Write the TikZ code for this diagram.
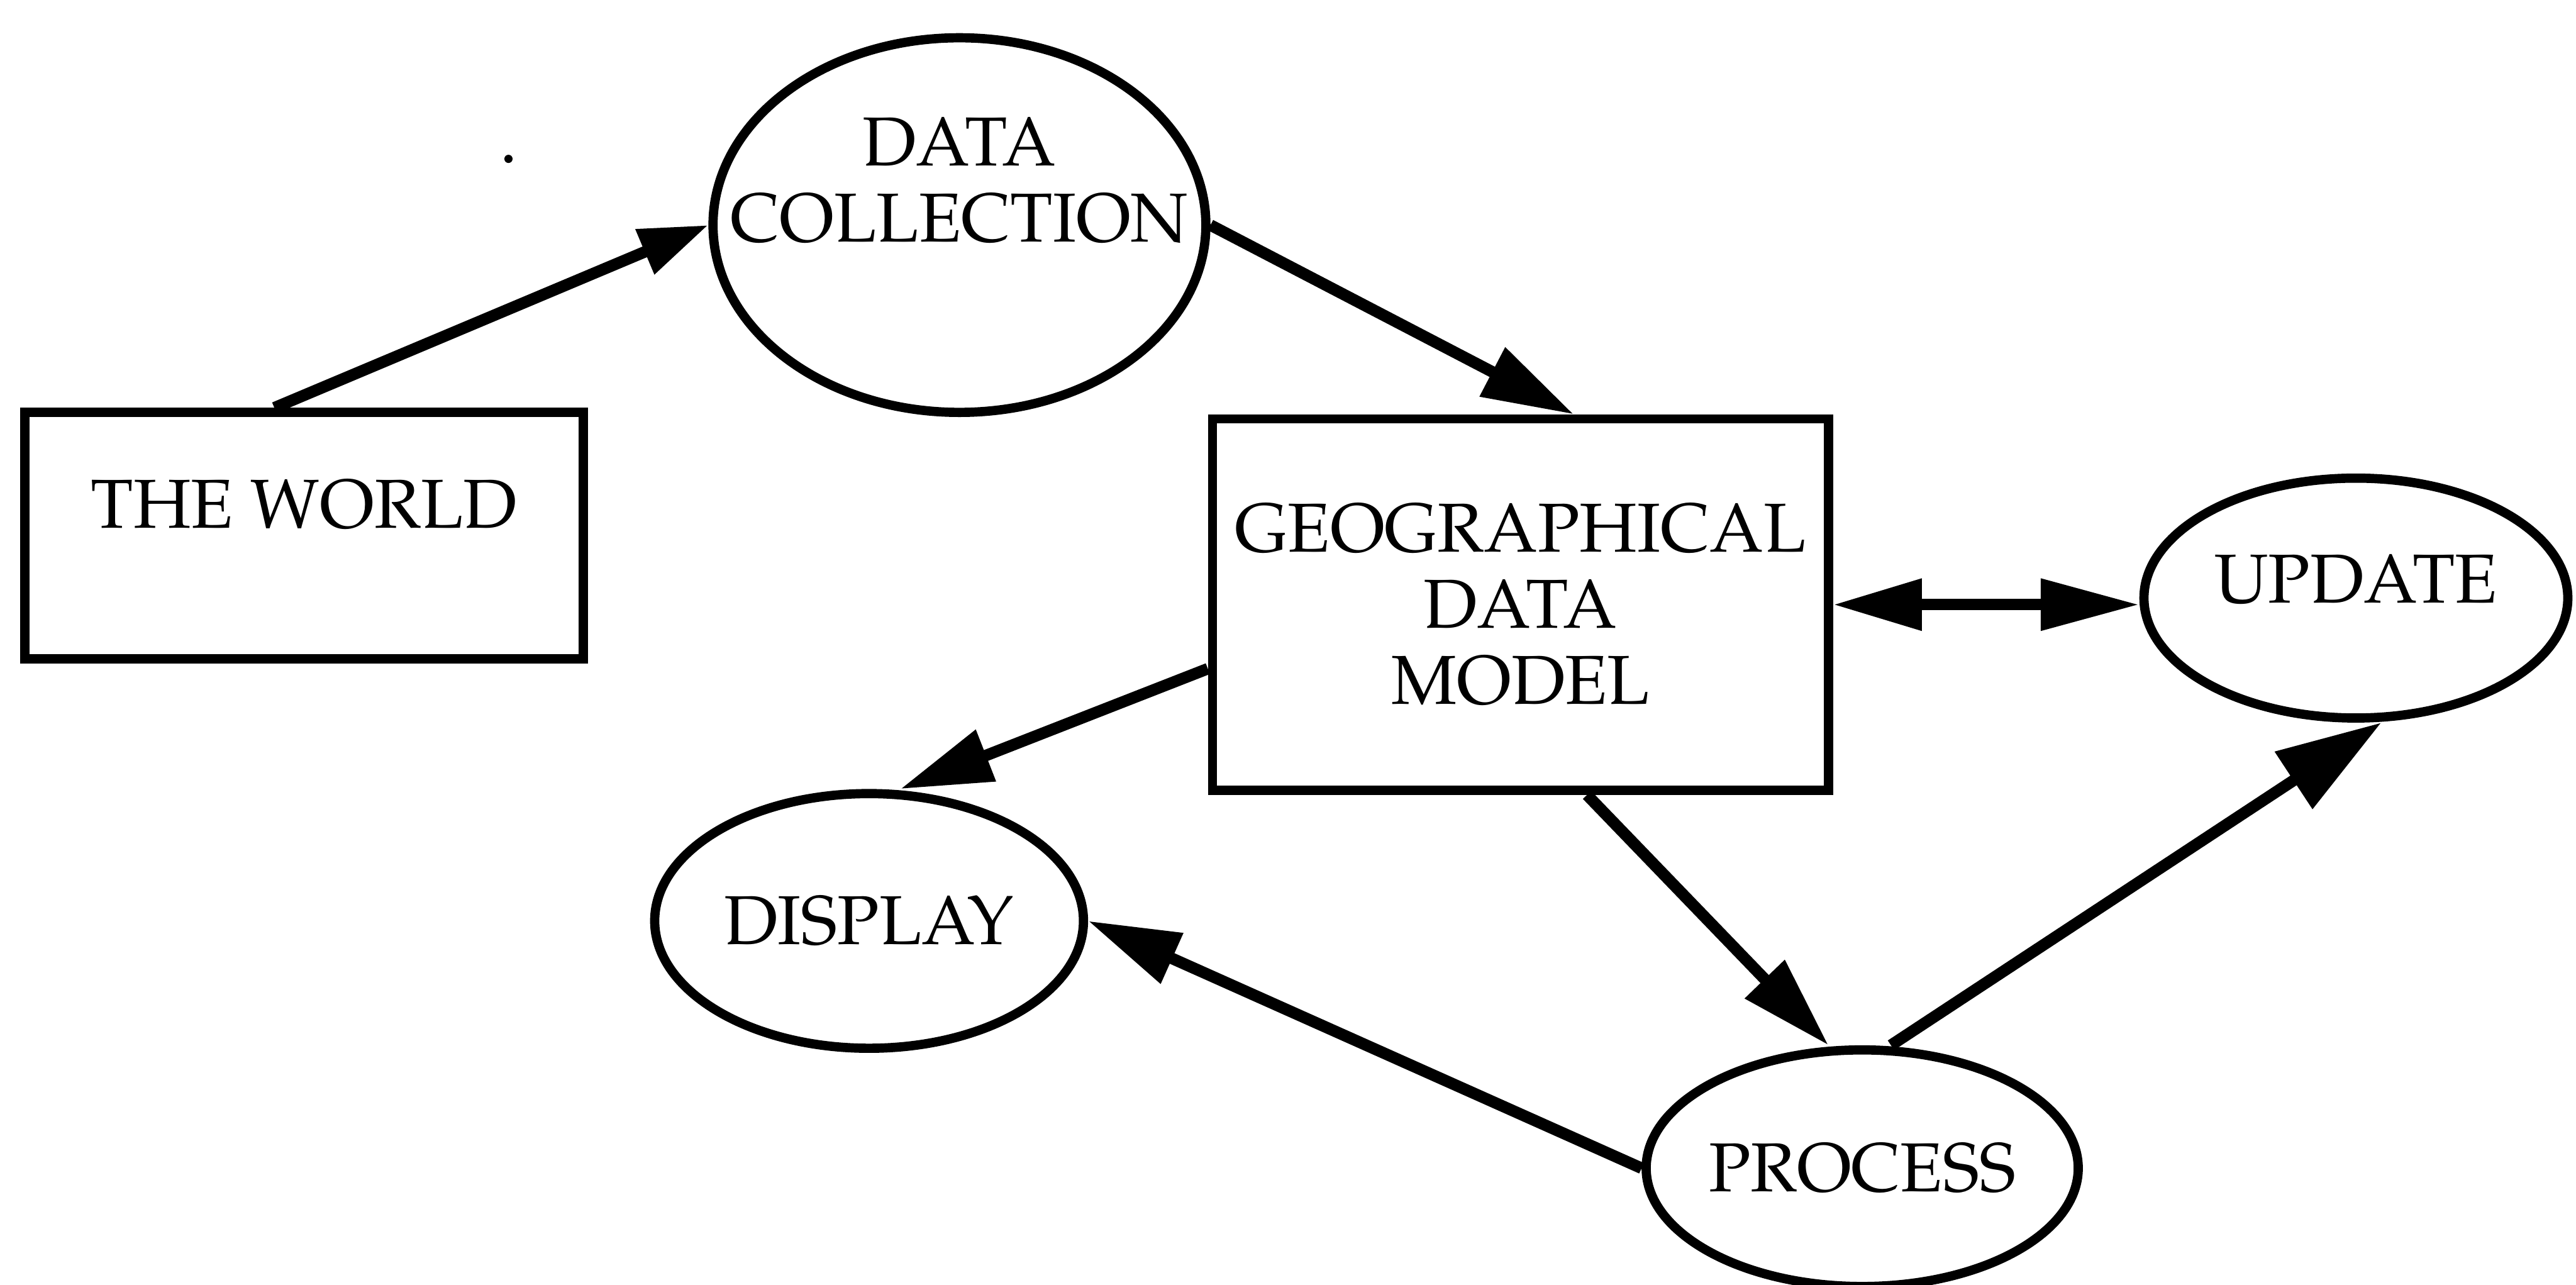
\documentclass[tikz,border=0pt]{standalone}
\usepackage[T1]{fontenc}
\usepackage{mathpazo}
\usetikzlibrary{arrows.meta,shapes.geometric}

\begin{document}
\begin{tikzpicture}[
  box/.style={draw,line width=1.6pt,inner sep=0pt,
              font={\fontsize{12}{13.2}\selectfont}},
  oval/.style={draw,ellipse,line width=1.6pt,inner sep=-0.4cm,
               font={\fontsize{12}{13.2}\selectfont}},
  arr/.style={-{Triangle[length=0.56cm,width=0.32cm]},line width=2pt},
  darr/.style={{Triangle[length=0.54cm,width=0.3cm]}-{Triangle[length=0.6cm,width=0.3cm]},
               line width=2pt}
]
\useasboundingbox (0,0) rectangle (15.68,7.82);

% boxes and ovals
\node[box,minimum width=3.4cm,minimum height=1.5cm,
      text height=0.3cm,text depth=0.39cm] (world) at (1.85,4.56) {THE WORLD};
\node[oval,align=center,minimum width=3.0cm,minimum height=2.28cm,
      text depth=0.55cm] (coll) at (5.84,6.45) {DATA\\COLLECTION};
\node[box,align=center,minimum width=3.75cm,minimum height=2.26cm] (model)
      at (9.255,4.14) {GEOGRAPHICAL\\DATA\\MODEL};
\node[oval,minimum width=2.58cm,minimum height=1.46cm,
      text height=0.3cm,text depth=0.24cm] (update) at (14.34,4.18) {UPDATE};
\node[oval,minimum width=2.61cm,minimum height=1.55cm] (disp) at (5.29,2.215) {DISPLAY};
\node[oval,minimum width=2.63cm,minimum height=1.44cm] (proc) at (11.335,0.71) {PROCESS};

% stray speck
\fill (3.095,6.853) circle (0.025);

% connectors
\draw[arr,-{Triangle[length=0.42cm,width=0.28cm]}] ([xshift=-0.18cm]world.north) -- (coll.west);
\draw[arr] (coll.east) -- ([xshift=0.325cm]model.north);
\draw[darr] (model.east) -- (model.east -| update.west);
\draw[arr] ([yshift=-0.39cm]model.west) -- ([xshift=0.19cm]disp.north);
\draw[arr] ([xshift=0.405cm]model.south) -- ([xshift=-0.205cm]proc.north);
\draw[arr,-{Triangle[length=0.64cm,width=0.4cm]}] ([xshift=0.175cm]proc.north) -- ([xshift=0.155cm]update.south);
\draw[arr] (proc.west) -- (disp.east);
\end{tikzpicture}
\end{document}
